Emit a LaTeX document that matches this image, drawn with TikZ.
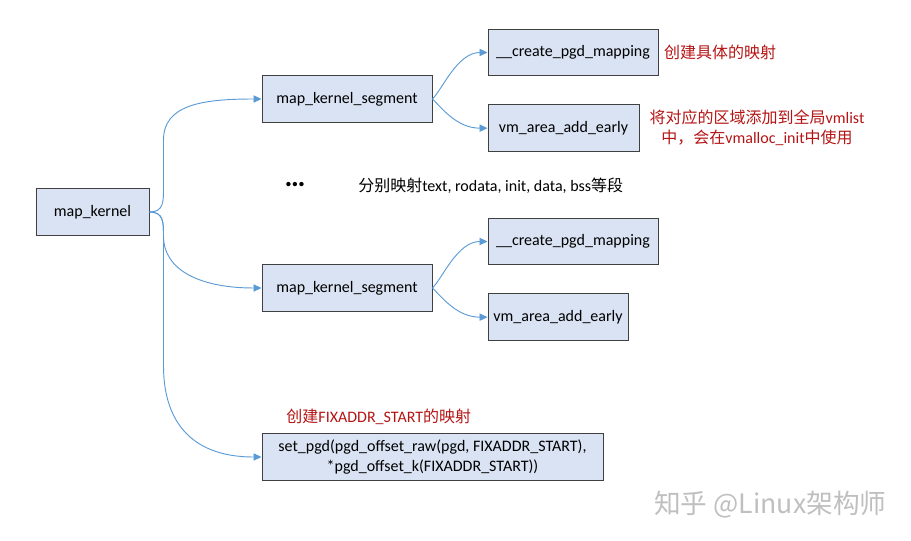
\documentclass[tikz,border=0pt]{standalone}
\usepackage{fontspec}
\setmainfont{Carlito}
\newfontfamily\cjk{Noto Sans CJK SC}
\usetikzlibrary{positioning,arrows.meta,calc}
\definecolor{boxfill}{RGB}{218,227,243}
\definecolor{boxline}{RGB}{64,64,64}
\definecolor{linkblue}{RGB}{91,155,213}
\definecolor{notered}{RGB}{180,20,20}
\begin{document}
\begin{tikzpicture}[
  x=0.75pt, y=-0.75pt,
  font=\fontsize{12}{15}\selectfont,
  fn/.style={draw=boxline, fill=boxfill, line width=0.75pt, minimum height=35pt, inner sep=2pt, align=center},
  link/.style={draw=linkblue, line width=0.7pt, -{Triangle[length=6pt,width=5.5pt]}},
  note/.style={text=notered, inner sep=0pt, align=center}
]
\useasboundingbox (0,0) rectangle (911,541);
\node[fn, minimum width=84.75pt] (mk) at (92.5,212) {map\_kernel};
\node[fn, minimum width=127.5pt] (mks1) at (347,99) {map\_kernel\_segment};
\node[fn, minimum width=127.5pt] (mks2) at (347,288) {map\_kernel\_segment};
\node[fn, minimum width=127.5pt] (cpm1) at (573,52.5) {\_\_create\_pgd\_mapping};
\node[fn, minimum width=113.25pt, below=21pt of cpm1.south west, anchor=north west] (vaae1) {vm\_area\_add\_early};
\node[fn, minimum width=127.5pt] (cpm2) at (573,241.5) {\_\_create\_pgd\_mapping};
\node[fn, minimum width=105pt, below=21pt of cpm2.south west, anchor=north west] (vaae2) {vm\_area\_add\_early};
\node[fn, minimum width=255.75pt] (sp) at (432.5,457) {set\_pgd(pgd\_offset\_raw(pgd, FIXADDR\_START),\\*pgd\_offset\_k(FIXADDR\_START))};

\node[note, right=4pt of cpm1, anchor=west] (n1) {{\cjk 创建具体的映射}};
\node[note] (n2) at (757,128) {{\cjk 将对应的区域添加到全局}vmlist\\{\cjk 中，会在}vmalloc\_init{\cjk 中使用}};
\node[inner sep=0pt] (dots) at (295,185) {\textbf{\fontsize{22}{22}\selectfont …}};
\node[inner sep=0pt, anchor=west] (seg) at (358,186) {{\cjk 分别映射}text, rodata, init, data, bss{\cjk 等段}};
\node[note, above=6pt of sp.north west, anchor=south west, xshift=18.5pt] (n3) {{\cjk 创建}FIXADDR\_START{\cjk 的映射}};
\node[inner sep=0pt, anchor=west, text=black!25] (wm) at (654,505) {\cjk\fontsize{20}{20}\selectfont 知乎 @Linux架构师};

\draw[link] (mk.east) .. controls +(14,0) and +(0,14) .. ++(14,-24) -- ++(0,-48) .. controls +(0,-35) and +(-60,0) .. (mks1.west);
\draw[link] (mk.east) .. controls +(14,0) and +(0,-14) .. ++(14,24) .. controls +(0,35) and +(-60,0) .. (mks2.west);
\draw[link] (mk.east) .. controls +(14,0) and +(0,-14) .. ++(14,24) -- ++(0,130) .. controls +(0,50) and +(-75,0) .. (sp.west);
\draw[link] (mks1.east) .. controls +(10,-10) and +(-30,0) .. (cpm1.west);
\draw[link] (mks1.east) .. controls +(10,10) and +(-30,0) .. (vaae1.west);
\draw[link] (mks2.east) .. controls +(10,-10) and +(-30,0) .. (cpm2.west);
\draw[link] (mks2.east) .. controls +(10,10) and +(-30,0) .. (vaae2.west);
\end{tikzpicture}
\end{document}
